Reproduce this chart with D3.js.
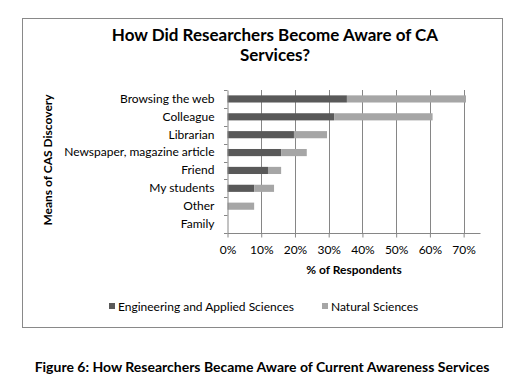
<!DOCTYPE html>
<html><head><meta charset="utf-8">
<script src="https://cdn.jsdelivr.net/npm/d3@7/dist/d3.min.js"></script>
<style>body{margin:0;background:#fff}svg{display:block}text{font-family:Lato,"Open Sans",sans-serif}</style>
</head><body><svg id="c" width="528" height="382"></svg>
<script>
const categories = ["Browsing the web","Colleague","Librarian","Newspaper, magazine article","Friend","My students","Other","Family"];
const seriesNames = ["Engineering and Applied Sciences","Natural Sciences"];
const engineering = [0.354,0.316,0.197,0.159,0.12,0.079,0,0];
const natural = [0.353,0.292,0.098,0.076,0.039,0.059,0.079,0];
const xTicks = [0,0.1,0.2,0.3,0.4,0.5,0.6,0.7];
const colors = ["#595959","#a6a6a6"];

const svg = d3.select("#c");
svg.append("rect").attr("x",22.5).attr("y",18.5).attr("width",480).attr("height",309)
  .attr("fill","#fff").attr("stroke","#898989");

svg.append("text").attr("x",275).attr("y",41).attr("text-anchor","middle")
  .attr("font-size",17).attr("font-weight","bold").text("How Did Researchers Become Aware of CA");
svg.append("text").attr("x",275).attr("y",61).attr("text-anchor","middle")
  .attr("font-size",17).attr("font-weight","bold").text("Services?");

const x = d3.scaleLinear().domain([0,0.75]).range([227.5,480.5]);
const y = d3.scaleBand().domain(categories).range([90,233]).paddingInner(0.6).paddingOuter(0.3);
const yb = d3.scaleBand().domain(categories).range([90,233]);

svg.append("g").selectAll("line").data(xTicks.slice(1)).join("line")
  .attr("x1",d=>Math.round(x(d))+0.5).attr("x2",d=>Math.round(x(d))+0.5)
  .attr("y1",90).attr("y2",233).attr("stroke","#868686");

const stack = categories.map((c,i)=>({c, vals:[[0,engineering[i]],[engineering[i],engineering[i]+natural[i]]]}));
const g = svg.append("g");
stack.forEach(s=>{
  s.vals.forEach((v,k)=>{
    if(v[1]-v[0]<=0) return;
    g.append("rect").attr("x",x(v[0])).attr("width",x(v[1])-x(v[0]))
      .attr("y",y(s.c)).attr("height",y.bandwidth()).attr("fill",colors[k]);
  });
});

const xa = svg.append("g").attr("transform","translate(0,233.5)")
  .call(d3.axisBottom(x).tickValues(xTicks).tickFormat(d3.format(".0%")).tickSize(4).tickPadding(8));
xa.select(".domain").attr("stroke","#868686").attr("d","M227.5,0H480.5");
xa.selectAll(".tick line").attr("stroke","#868686");
xa.selectAll("text").attr("font-size",12).attr("fill","#000").style("font-family","Lato");

const ya = svg.append("g").attr("transform","translate(227.5,0)")
  .call(d3.axisLeft(yb).tickSize(0).tickPadding(13));
ya.select(".domain").attr("stroke","#868686");
ya.selectAll("text").attr("font-size",12).attr("fill","#000").style("font-family","Lato");
svg.append("g").selectAll("line").data(d3.range(categories.length+1)).join("line")
  .attr("x1",224).attr("x2",227.5)
  .attr("y1",i=>Math.round(90+i*yb.step())+0.5).attr("y2",i=>Math.round(90+i*yb.step())+0.5)
  .attr("stroke","#868686");

svg.append("text").attr("x",354).attr("y",274).attr("text-anchor","middle")
  .attr("font-size",12).attr("font-weight","bold").text("% of Respondents");
svg.append("text").attr("transform","translate(52,160) rotate(-90)").attr("text-anchor","middle")
  .attr("font-size",12).attr("font-weight","bold").text("Means of CAS Discovery");

const legX = [109,322];
seriesNames.forEach((n,i)=>{
  svg.append("rect").attr("x",legX[i]).attr("y",303).attr("width",6).attr("height",6).attr("fill",colors[i]);
  svg.append("text").attr("x",legX[i]+9).attr("y",311).attr("font-size",12).text(n);
});

svg.append("text").attr("x",262).attr("y",372).attr("text-anchor","middle")
  .attr("font-size",14).attr("font-weight","bold").text("Figure 6: How Researchers Became Aware of Current Awareness Services");
</script></body></html>
